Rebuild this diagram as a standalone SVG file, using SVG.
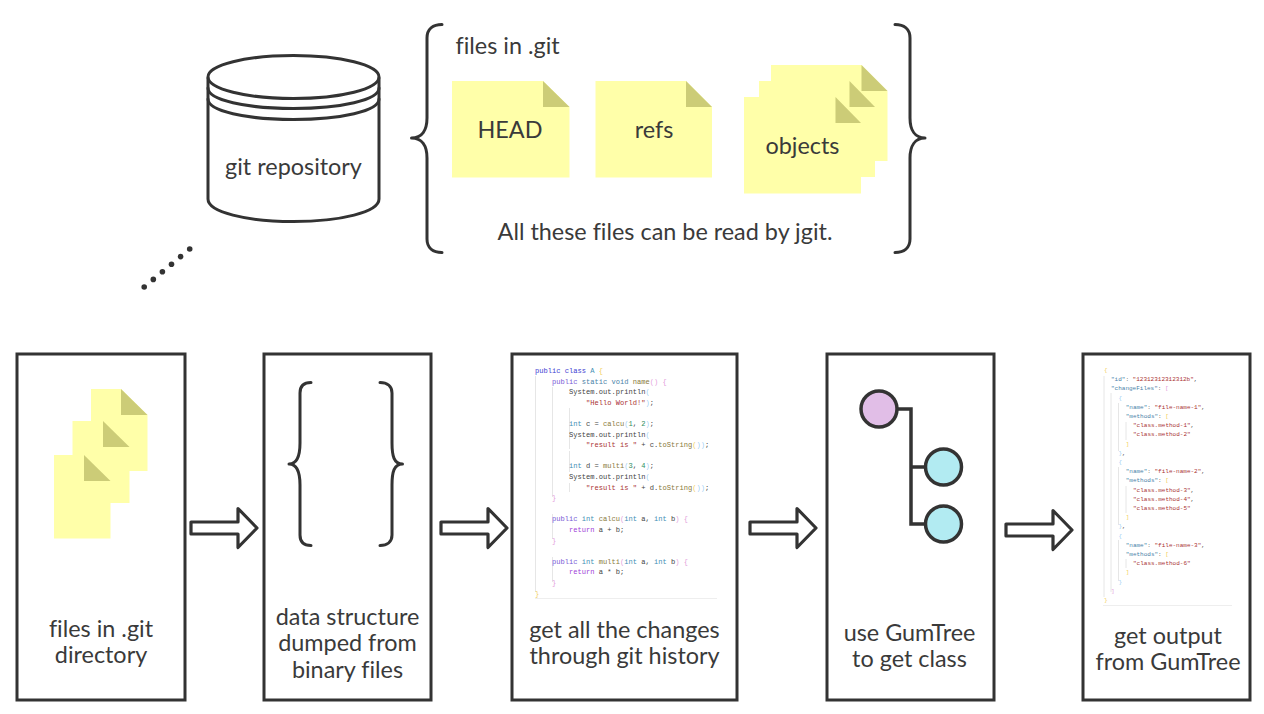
<svg xmlns="http://www.w3.org/2000/svg" width="1264" height="714" viewBox="0 0 1264 714">
<style>
.ln{fill:none;stroke:#333;stroke-width:3;stroke-linecap:round;stroke-linejoin:round}
.box{fill:#fff;stroke:#333;stroke-width:3}
.arrow{fill:#fff;stroke:#333;stroke-width:3.2;stroke-linejoin:round}
.note{fill:#ffffa9}
.fold{fill:#cccc77}
.t{font-family:Lato,"Open Sans",sans-serif;font-size:23.4px;fill:#3a3a3a;text-anchor:middle;font-variant-ligatures:none}
.s{text-anchor:start}
.code{font-family:"Liberation Mono",monospace;font-size:7.08px;fill:#444}
.json{font-family:"Liberation Mono",monospace;font-size:6px;fill:#a33}
.g{stroke:#e6e6e6;stroke-width:1;fill:none}
.kw{fill:#3c3cd2}.pu{fill:#7a5ad6}.ty{fill:#3f8fb5}.fn{fill:#8a7a3c}.st{fill:#a33}.nu{fill:#2f8f5f}.re{fill:#a040d8}
.by{fill:#f3cf63}.bp{fill:#e49fdc}.bb{fill:#9fd0f5}.ke{fill:#4a7fa8}.pn{fill:#555}
</style>
<rect width="1264" height="714" fill="#fff"/>

<g id="git-repository">
<path class="ln" d="M208 78V199C208 212 246 221.500 293.500 221.500S379 212 379 199V78"/>
<ellipse class="ln" cx="293.500" cy="77" rx="85.500" ry="21.500"/>
<path class="ln" d="M208 88C208 100 246 108.500 293.500 108.500S379 100 379 88"/>
<path class="ln" d="M208 99C208 111 246 119.500 293.500 119.500S379 111 379 99"/>
<text class="t" x="293.500" y="175">git repository</text>
</g>

<g id="left-brace"><path class="ln" d="M442 24.500C433 24.500 427 29 427 38V118C427 130 422 138 411.500 138C422 138 427 146 427 158V239C427 248 433 252.500 442 252.500"/></g>
<g id="right-brace"><path class="ln" d="M895 24.500C904 24.500 910 29 910 38V118C910 130 915 138 925 138C915 138 910 146 910 158V239C910 248 904 252.500 895 252.500"/></g>
<g id="files-label"><text class="t s" x="455.500" y="54">files in .git</text></g>

<g id="head-file">
<path class="note" d="M452 81H543L569.500 107V177.500H452Z"/><path class="fold" d="M543 81L569.500 107H543Z"/>
<text class="t" x="510" y="138">HEAD</text>
</g>
<g id="refs-file">
<path class="note" d="M595.500 81H686L712 107V177.500H595.500Z"/><path class="fold" d="M686 81L712 107H686Z"/>
<text class="t" x="654" y="138">refs</text>
</g>
<g id="objects-file">
<path class="note" d="M771 65H861.500L887.500 91V161H771Z"/><path class="fold" d="M861.500 65L887.500 91H861.500Z"/>
<path class="note" d="M759 81H849.500L875 107V177H759Z"/><path class="fold" d="M849.500 81L875 107H849.500Z"/>
<path class="note" d="M744 97H835.500L861 123V193.500H744Z"/><path class="fold" d="M835.500 97L861 123H835.500Z"/>
<text class="t" x="802.500" y="154">objects</text>
</g>
<g id="jgit-note"><text class="t" x="665" y="240">All these files can be read by jgit.</text></g>

<g id="step-files">
<rect class="box" x="17" y="354" width="168" height="346"/>
<path class="note" d="M91 389H121L147.500 415V471H91Z"/><path class="fold" d="M121 389L147.500 415H121Z"/>
<path class="note" d="M72.500 421H103L129.500 447V503H72.500Z"/><path class="fold" d="M103 421L129.500 447H103Z"/>
<path class="note" d="M54 455H84L110.500 481V538.500H54Z"/><path class="fold" d="M84 455L110.500 481H84Z"/>
<text class="t" x="101" y="637">files in .git</text>
<text class="t" x="101" y="663">directory</text>
</g>

<g id="step-structure">
<rect class="box" x="264" y="354" width="167" height="346"/>
<path class="ln" d="M311 382.500C304 382.500 300 386 300 393V443C300 456 297 464 289 464C297 464 300 472 300 485V535C300 542 304 545.500 311 545.500"/>
<path class="ln" d="M380 382.500C387 382.500 392 386 392 393V443C392 456 394 464 402.500 464C394 464 392 472 392 485V535C392 542 387 545.500 380 545.500"/>
<text class="t" x="347.500" y="625">data structure</text>
<text class="t" x="347.500" y="651">dumped from</text>
<text class="t" x="347.500" y="678">binary files</text>
</g>

<g id="step-changes">
<rect class="box" x="512" y="354" width="225" height="346"/>
<path class="g" d="M535.500 376V592M552.500 387V497M552.500 514V539M552.500 557V582M569.500 408V449M569.500 451V472M569.500 483V492"/>
<path d="M535 598.500H717" stroke="#eee" stroke-width="1" fill="none"/>
<g class="code">
<text x="535" y="373"><tspan class="kw">public class</tspan><tspan class="ty"> A</tspan><tspan class="by"> {</tspan></text>
<text x="552" y="383.600"><tspan class="pu">public</tspan><tspan class="ke"> static void</tspan><tspan class="fn"> name</tspan><tspan class="bp">()</tspan><tspan class="bp"> {</tspan></text>
<text x="569" y="394.200">System.out.println<tspan class="bb">(</tspan></text>
<text x="586" y="404.800"><tspan class="st">"Hello World!"</tspan><tspan class="bb">)</tspan>;</text>
<text x="569" y="426"><tspan class="ty">int</tspan> c = <tspan class="fn">calcu</tspan><tspan class="bb">(</tspan><tspan class="nu">1</tspan>, <tspan class="nu">2</tspan><tspan class="bb">)</tspan>;</text>
<text x="569" y="436.600">System.out.println<tspan class="bb">(</tspan></text>
<text x="586" y="447.200"><tspan class="st">"result is "</tspan> + c.<tspan class="fn">toString</tspan><tspan class="by">(</tspan><tspan class="bb">)</tspan><tspan class="bb">)</tspan>;</text>
<text x="569" y="468.400"><tspan class="ty">int</tspan> d = <tspan class="fn">multi</tspan><tspan class="bb">(</tspan><tspan class="nu">3</tspan>, <tspan class="nu">4</tspan><tspan class="bb">)</tspan>;</text>
<text x="569" y="479">System.out.println<tspan class="bb">(</tspan></text>
<text x="586" y="489.600"><tspan class="st">"result is "</tspan> + d.<tspan class="fn">toString</tspan><tspan class="by">(</tspan><tspan class="bb">)</tspan><tspan class="bb">)</tspan>;</text>
<text x="552" y="500.200" class="bp">}</text>
<text x="552" y="521.400"><tspan class="pu">public</tspan><tspan class="ty"> int</tspan><tspan class="fn"> calcu</tspan><tspan class="bp">(</tspan><tspan class="ty">int</tspan> a, <tspan class="ty">int</tspan> b<tspan class="bp">)</tspan><tspan class="bp"> {</tspan></text>
<text x="569" y="532"><tspan class="re">return</tspan> a + b;</text>
<text x="552" y="542.600" class="bp">}</text>
<text x="552" y="563.800"><tspan class="pu">public</tspan><tspan class="ty"> int</tspan><tspan class="fn"> multi</tspan><tspan class="bp">(</tspan><tspan class="ty">int</tspan> a, <tspan class="ty">int</tspan> b<tspan class="bp">)</tspan><tspan class="bp"> {</tspan></text>
<text x="569" y="574.400"><tspan class="re">return</tspan> a * b;</text>
<text x="552" y="585" class="bp">}</text>
<text x="535" y="595.600" class="by">}</text>
</g>
<text class="t" x="624.500" y="638">get all the changes</text>
<text class="t" x="624.500" y="664">through git history</text>
</g>

<g id="step-class">
<rect class="box" x="827" y="354" width="167" height="346"/>
<path d="M897 409H911V524H925M911 467H925" fill="none" stroke="#333" stroke-width="3.500"/>
<circle cx="879" cy="409" r="18" fill="#e1bee7" stroke="#333" stroke-width="3.500"/>
<circle cx="943.500" cy="467" r="18" fill="#b2ebf2" stroke="#333" stroke-width="3.500"/>
<circle cx="943.500" cy="524" r="18" fill="#b2ebf2" stroke="#333" stroke-width="3.500"/>
<text class="t" x="909.500" y="641">use GumTree</text>
<text class="t" x="909.500" y="667">to get class</text>
</g>

<g id="step-output">
<rect class="box" x="1083" y="354" width="167" height="346"/>
<path class="g" d="M1104 376V597M1111 393V592M1118.500 403V451M1118.500 467V525M1118.500 540V581M1126 422V440M1126 486V513M1126 559V568"/>
<path d="M1103 605.500H1232" stroke="#eee" stroke-width="1" fill="none"/>
<g class="json">
<text x="1104" y="372" class="by">{</text>
<text x="1111" y="381.200"><tspan class="ke">"id"</tspan><tspan class="pn">: </tspan>"12312312312312b"<tspan class="pn">,</tspan></text>
<text x="1111" y="390.400"><tspan class="ke">"changeFiles"</tspan><tspan class="pn">: </tspan><tspan class="bp">[</tspan></text>
<text x="1118.500" y="399.600" class="bb">{</text>
<text x="1125.700" y="408.800"><tspan class="ke">"name"</tspan><tspan class="pn">: </tspan>"file-name-1"<tspan class="pn">,</tspan></text>
<text x="1125.700" y="418"><tspan class="ke">"methods"</tspan><tspan class="pn">: </tspan><tspan class="by">[</tspan></text>
<text x="1133" y="427.200">"class.method-1"<tspan class="pn">,</tspan></text>
<text x="1133" y="436.400">"class.method-2"</text>
<text x="1125.700" y="445.600" class="by">]</text>
<text x="1118.500" y="454.800"><tspan class="bb">}</tspan><tspan class="pn">,</tspan></text>
<text x="1118.500" y="464" class="bb">{</text>
<text x="1125.700" y="473.200"><tspan class="ke">"name"</tspan><tspan class="pn">: </tspan>"file-name-2"<tspan class="pn">,</tspan></text>
<text x="1125.700" y="482.400"><tspan class="ke">"methods"</tspan><tspan class="pn">: </tspan><tspan class="by">[</tspan></text>
<text x="1133" y="491.600">"class.method-3"<tspan class="pn">,</tspan></text>
<text x="1133" y="500.800">"class.method-4"<tspan class="pn">,</tspan></text>
<text x="1133" y="510">"class.method-5"</text>
<text x="1125.700" y="519.200" class="by">]</text>
<text x="1118.500" y="528.400"><tspan class="bb">}</tspan><tspan class="pn">,</tspan></text>
<text x="1118.500" y="537.600" class="bb">{</text>
<text x="1125.700" y="546.800"><tspan class="ke">"name"</tspan><tspan class="pn">: </tspan>"file-name-3"<tspan class="pn">,</tspan></text>
<text x="1125.700" y="556"><tspan class="ke">"methods"</tspan><tspan class="pn">: </tspan><tspan class="by">[</tspan></text>
<text x="1133" y="565.200">"class.method-6"</text>
<text x="1125.700" y="574.400" class="by">]</text>
<text x="1118.500" y="583.600" class="bb">}</text>
<text x="1111" y="592.800" class="bp">]</text>
<text x="1104" y="602" class="by">}</text>
</g>
<text class="t" x="1168" y="644">get output</text>
<text class="t" x="1168" y="670">from GumTree</text>
</g>

<g id="connectors">
<path class="arrow" d="M191 522H238V508.500L257 528L238 547.500V534H191Z"/>
<path class="arrow" d="M441 522H488V508.500L507 528L488 547.500V534H441Z"/>
<path class="arrow" d="M750 522H797V508.500L816 528L797 547.500V534H750Z"/>
<path class="arrow" d="M1006 524H1053V510.500L1072 530L1053 549.500V536H1006Z"/>
<g id="dots" fill="#333">
<circle cx="144.200" cy="287" r="2.800"/><circle cx="153.300" cy="279.400" r="2.800"/><circle cx="162.400" cy="271.800" r="2.800"/><circle cx="171.500" cy="264.200" r="2.800"/><circle cx="180.600" cy="256.600" r="2.800"/><circle cx="189.700" cy="249" r="2.800"/>
</g>
</g>
</svg>
